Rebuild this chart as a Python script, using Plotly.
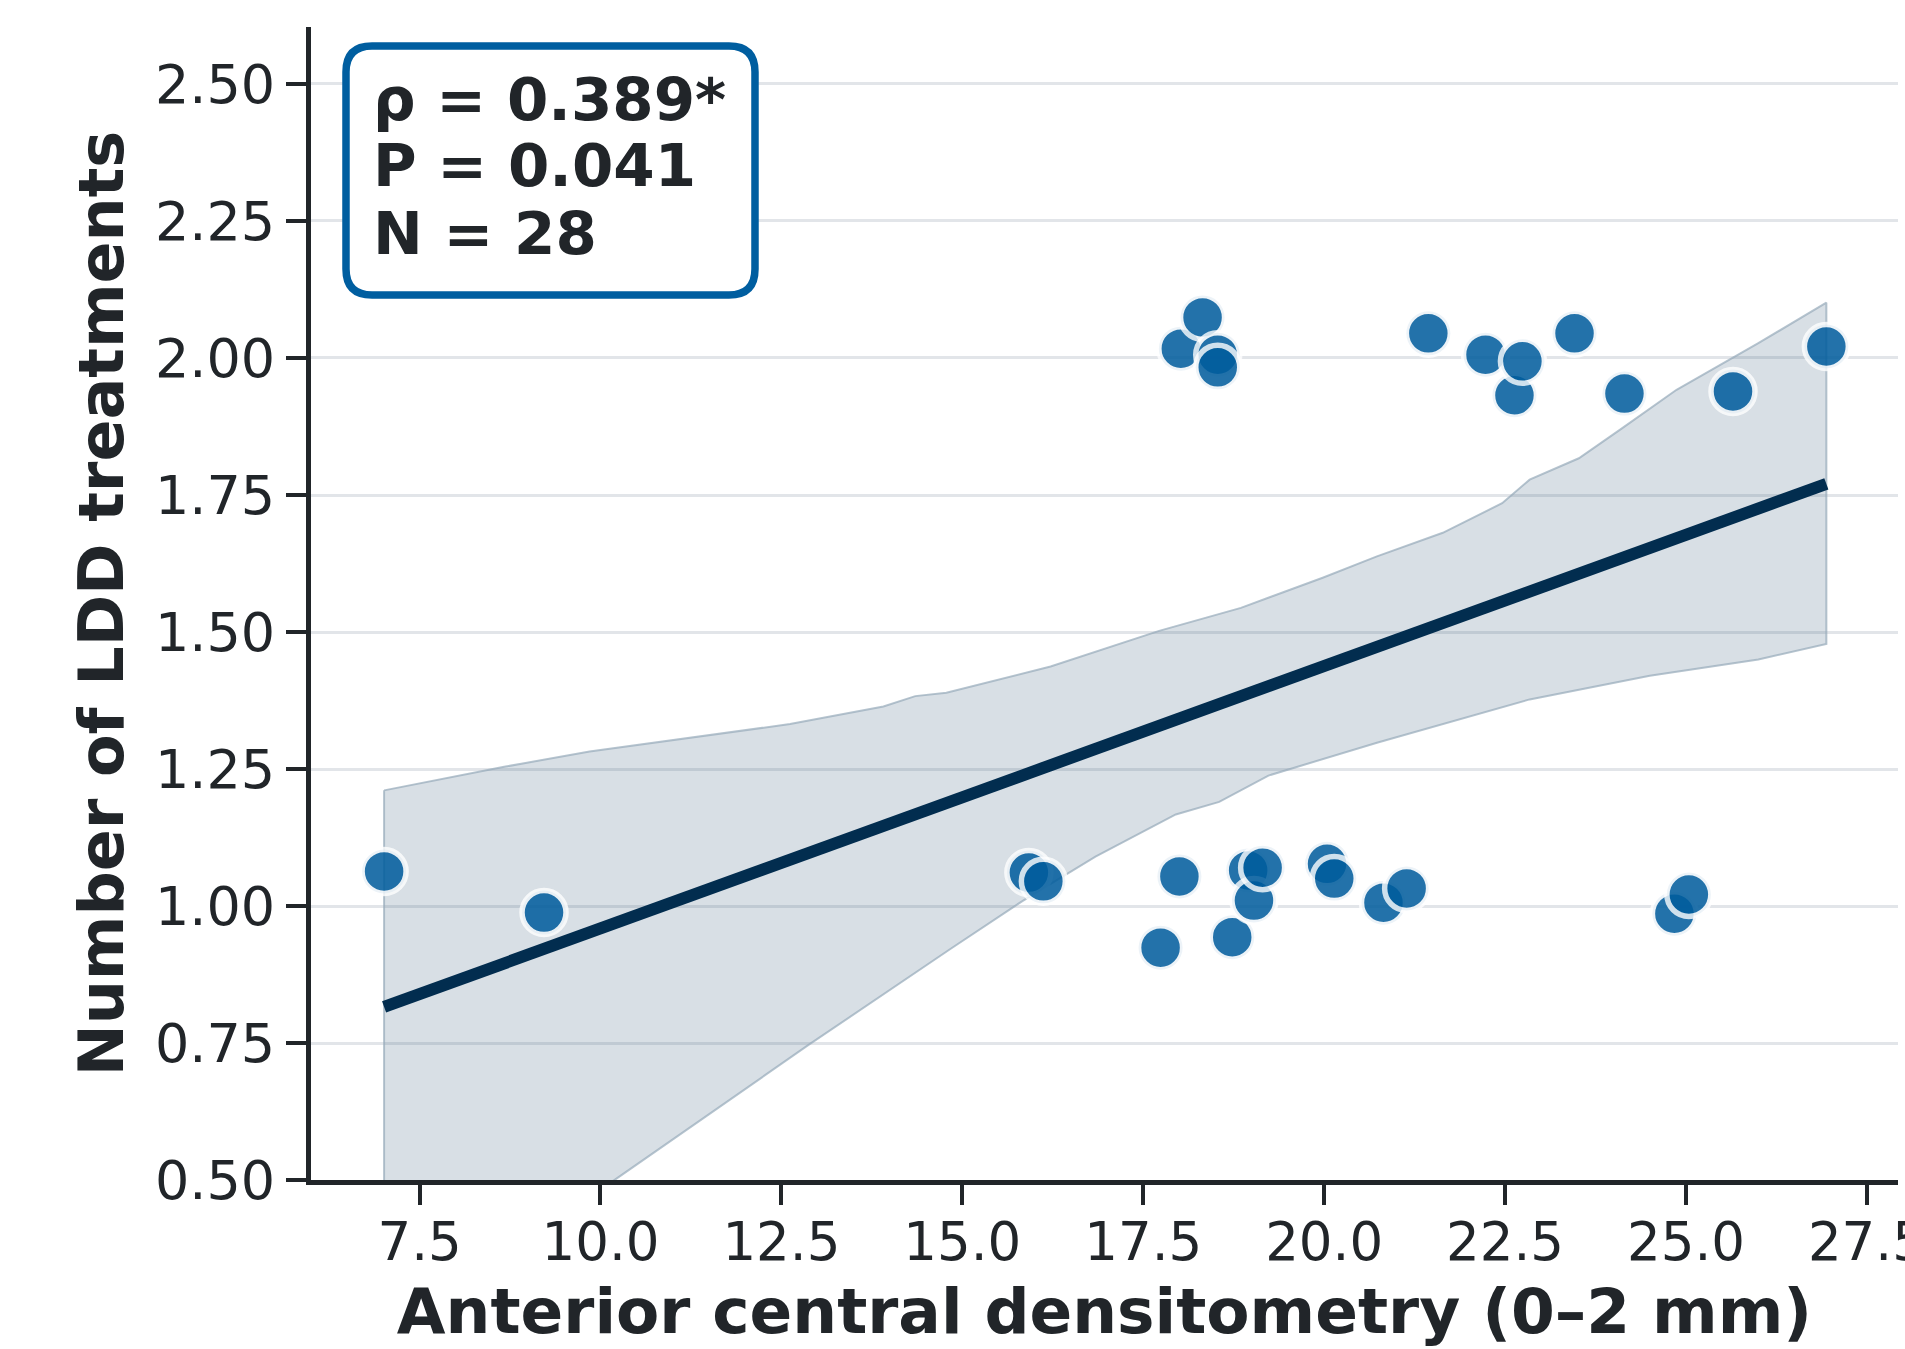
import numpy as np
import plotly.graph_objects as go

# ---- data ----
density = [7.01, 9.22, 15.92, 16.12, 17.74, 18.00, 18.02, 18.32, 18.53, 18.53,
           18.73, 18.95, 19.03, 19.15, 20.04, 20.14, 20.82, 21.14, 21.44, 22.23,
           22.63, 22.74, 23.46, 24.15, 24.84, 25.04, 25.65, 26.94]
ldd_jittered = [1.063, 0.988, 1.061, 1.045, 0.924, 1.054, 2.017, 2.074, 2.006, 1.983,
                0.943, 1.065, 1.010, 1.070, 1.077, 1.050, 1.006, 1.032, 2.045, 2.006,
                1.932, 1.994, 2.045, 1.935, 0.986, 1.021, 1.939, 2.021]

ci_upper_x = [7.01, 8.67, 9.85, 12.62, 13.91, 14.35, 14.78, 16.22, 17.72, 18.85,
              19.98, 20.73, 21.64, 22.46, 22.84, 23.52, 24.12, 24.87, 26.00, 26.94]
ci_upper_y = [1.211, 1.254, 1.282, 1.332, 1.364, 1.383, 1.389, 1.437, 1.502, 1.544,
              1.599, 1.638, 1.681, 1.735, 1.778, 1.817, 1.872, 1.942, 2.027, 2.101]
ci_lower_x = [7.01, 10.28, 12.87, 14.84, 15.83, 16.84, 17.95, 18.55, 19.23, 20.73,
              22.84, 24.50, 26.00, 26.94]
ci_lower_y = [0.207, 0.508, 0.746, 0.922, 1.009, 1.090, 1.167, 1.190, 1.238, 1.298,
              1.377, 1.420, 1.450, 1.478]

stat_lines = ["ρ = 0.389*", "P = 0.041", "N = 28"]
x_ticks = [7.5, 10.0, 12.5, 15.0, 17.5, 20.0, 22.5, 25.0, 27.5]
y_ticks = [0.50, 0.75, 1.00, 1.25, 1.50, 1.75, 2.00, 2.25, 2.50]

# ---- styling ----
DARK = "#212529"
FONT = "DejaVu Sans"
W, H = 1905, 1349
ML, MR, MT, MB = 311, 7, 27, 169
PW, PH = W - ML - MR, H - MT - MB

def px_to_paper(px, py):
    return (px - ML) / PW, (H - MB - py) / PH

# regression fit on the counts
xs = np.array(density)
counts = np.round(np.array(ldd_jittered))
slope, intercept = np.polyfit(xs, counts, 1)
line_x = np.linspace(xs.min(), xs.max(), 50)
line_y = intercept + slope * line_x

fig = go.Figure()

band_x = ci_upper_x + ci_lower_x[::-1]
band_y = ci_upper_y + ci_lower_y[::-1]
fig.add_trace(go.Scatter(
    x=band_x + [band_x[0]], y=band_y + [band_y[0]], mode="lines", fill="toself",
    fillcolor="rgba(60,95,125,0.2)", line=dict(color="rgba(150,170,185,0.7)", width=2),
    hoverinfo="skip", showlegend=False))

fig.add_trace(go.Scatter(
    x=line_x, y=line_y, mode="lines", line=dict(color="#022d4f", width=12),
    showlegend=False))

fig.add_trace(go.Scatter(
    x=density, y=ldd_jittered, mode="markers",
    marker=dict(size=44, color="rgb(0,92,157)", opacity=0.86,
                line=dict(color="rgba(255,255,255,0.92)", width=5.5)),
    showlegend=False))

# rounded stats box
bx0, bx1, by0, by1, r = 346, 755, 46, 295, 26
def P(px, py):
    x, y = px_to_paper(px, py)
    return f"{x:.5f},{y:.5f}"
path = (f"M {P(bx0 + r, by0)} L {P(bx1 - r, by0)} Q {P(bx1, by0)} {P(bx1, by0 + r)} "
        f"L {P(bx1, by1 - r)} Q {P(bx1, by1)} {P(bx1 - r, by1)} "
        f"L {P(bx0 + r, by1)} Q {P(bx0, by1)} {P(bx0, by1 - r)} "
        f"L {P(bx0, by0 + r)} Q {P(bx0, by0)} {P(bx0 + r, by0)} Z")
fig.add_shape(type="path", path=path, xref="paper", yref="paper",
              line=dict(color="#005ea0", width=7.5), fillcolor="white", layer="above")

line_centers = [99, 166, 233]
for txt, cy in zip(stat_lines, line_centers):
    ax, ay = px_to_paper(371, cy)
    fig.add_annotation(x=ax, y=ay, xref="paper", yref="paper", text=txt,
                       showarrow=False, xanchor="left", yanchor="middle",
                       font=dict(family=FONT, size=59.5, color=DARK, weight="bold"))

axis_common = dict(
    showline=True, linecolor=DARK, linewidth=5, ticks="outside", ticklen=20,
    tickwidth=4, tickcolor=DARK, zeroline=False, mirror=False,
    ticklabeloverflow="allow", automargin=False)

fig.update_layout(
    width=W, height=H, margin=dict(l=ML, r=MR, t=MT, b=MB, autoexpand=False),
    paper_bgcolor="white", plot_bgcolor="white",
    xaxis=dict(range=[6.0, 27.93], tickvals=x_ticks,
               ticktext=[f"{v:.1f}" for v in x_ticks], showgrid=False,
               ticklabelstandoff=-9,
               tickfont=dict(family=FONT, size=53, color=DARK),
               title=dict(text="Anterior central densitometry (0–2 mm)", standoff=20,
                          font=dict(family=FONT, size=63, color=DARK, weight="bold")),
               **axis_common),
    yaxis=dict(range=[0.5, 2.604], tickvals=y_ticks,
               ticktext=[f"{v:.2f}" for v in y_ticks], showgrid=True,
               gridcolor="#e2e5e9", gridwidth=2.5,
               tickfont=dict(family=FONT, size=54, color=DARK),
               title=dict(text="Number of LDD treatments", standoff=13,
                          font=dict(family=FONT, size=62, color=DARK, weight="bold")),
               **axis_common),
)

fig.write_html("out.html")
